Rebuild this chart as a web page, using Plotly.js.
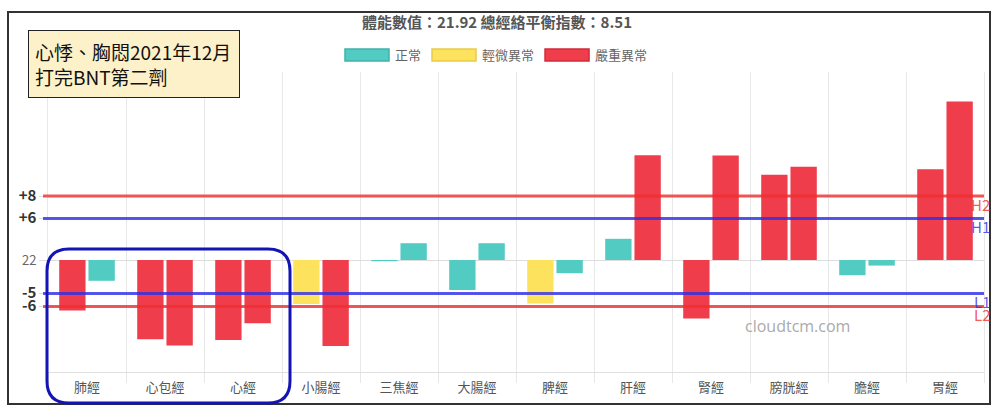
<!DOCTYPE html>
<html>
<head>
<meta charset="utf-8">
<script src="https://cdn.plot.ly/plotly-3.0.1.min.js"></script>
<style>
  html, body { margin: 0; padding: 0; background: #fff; }
  #chart { width: 1000px; height: 419px; }
</style>
</head>
<body>
<div id="chart"></div>
<script>
// meridians, left and right side readings (deviation from the body value 22, in chart units)
const categories = ["肺經", "心包經", "心經", "小腸經", "三焦經", "大腸經", "脾經", "肝經", "腎經", "膀胱經", "膽經", "胃經"];
const leftValues = [-6.3, -9.9, -10.0, -5.5, -0.15, -3.75, -5.45, 2.65, -7.3, 10.65, -1.9, 11.35];
const rightValues = [-2.6, -10.7, -7.9, -10.75, 2.1, 2.1, -1.65, 13.1, 13.05, 11.65, -0.7, 19.8];
const leftStatus = ["嚴重異常", "嚴重異常", "嚴重異常", "輕微異常", "正常", "正常", "輕微異常", "正常", "嚴重異常", "嚴重異常", "正常", "嚴重異常"];
const rightStatus = ["正常", "嚴重異常", "嚴重異常", "嚴重異常", "正常", "正常", "正常", "嚴重異常", "嚴重異常", "嚴重異常", "正常", "嚴重異常"];

const statusNames = ["正常", "輕微異常", "嚴重異常"];
const statusColors = { "正常": "#52CCC3", "輕微異常": "#FDE25E", "嚴重異常": "#EF3D4C" };
const statusBorders = { "正常": "#3FB3AA", "輕微異常": "#E8CB45", "嚴重異常": "#D42A39" };

// reference lines
const refTags = ["H2", "H1", "L1", "L2"];
const refLevels = [8, 5.2, -4.2, -5.8];
const refTickText = ["+8", "+6", "-5", "-6"];
const refColors = ["rgba(240,45,45,0.8)", "rgba(45,45,230,0.8)", "rgba(45,45,230,0.8)", "rgba(240,45,45,0.8)"];
const baseLabel = "22";

const titleText = "體能數值：21.92 總經絡平衡指數：8.51";
const noteText = "心悸、胸悶2021年12月<br>打完BNT第二劑";
const watermark = "cloudtcm.com";

const FONT = "'Noto Sans CJK TC', 'Noto Sans', sans-serif";

// plot area in pixels: x 48..984, y 72..372
const M = { l: 48, r: 16, t: 72, b: 47 };
const PW = 1000 - M.l - M.r;
const PH = 419 - M.t - M.b;
function px2x(px) { return (px - M.l) / PW; }
function py2y(py) { return (419 - M.b - py) / PH; }

function barTrace(values, status, name) {
  return {
    type: "bar",
    name: name,
    x: categories,
    y: values,
    marker: { color: status.map((s) => statusColors[s]) },
    showlegend: false,
    hoverinfo: "x+y",
  };
}

const legendTraces = statusNames.map((s) => ({
  type: "scatter",
  mode: "markers",
  name: s,
  x: [null],
  y: [null],
  marker: { symbol: "square", size: 12, color: statusColors[s], line: { color: statusBorders[s], width: 1.5 } },
}));

const data = [barTrace(leftValues, leftStatus, "左"), barTrace(rightValues, rightStatus, "右")].concat(legendTraces);

const tickvals = [refLevels[0], refLevels[1], 0, refLevels[2], refLevels[3]];
const ticktext = [refTickText[0], refTickText[1], baseLabel, refTickText[2], refTickText[3]]
  .map((t, i) => (i === 2 ? t : '<span style="font-size:15px;color:#333"><b>' + t + "</b></span>"));

const shapes = [];
refLevels.forEach((lv, i) => {
  shapes.push({
    type: "line", xref: "paper", yref: "y",
    x0: px2x(43), x1: 1, y0: lv, y1: lv,
    line: { color: refColors[i], width: 3 },
    layer: "above",
  });
});
// outer frame
shapes.push({
  type: "rect", xref: "paper", yref: "paper",
  x0: px2x(8), x1: px2x(990), y0: py2y(404), y1: py2y(12),
  line: { color: "#333", width: 2 },
});
// rounded highlight box
(function () {
  const x0 = px2x(47), x1 = px2x(290), yt = py2y(249), yb = py2y(403);
  const rx = 22 / PW, ry = 22 / PH;
  const path =
    `M${x0 + rx},${yt} L${x1 - rx},${yt} Q${x1},${yt} ${x1},${yt - ry} ` +
    `L${x1},${yb + ry} Q${x1},${yb} ${x1 - rx},${yb} ` +
    `L${x0 + rx},${yb} Q${x0},${yb} ${x0},${yb + ry} ` +
    `L${x0},${yt - ry} Q${x0},${yt} ${x0 + rx},${yt} Z`;
  shapes.push({ type: "path", xref: "paper", yref: "paper", path: path, line: { color: "#1414B4", width: 3 }, layer: "above" });
})();

const annotations = refTags.map((tag, i) => ({
  xref: "paper", yref: "y", x: px2x(992), y: refLevels[i],
  xanchor: "right", yanchor: "middle", yshift: -8,
  text: tag, showarrow: false,
  font: { family: FONT, size: 15, color: refColors[i] },
}));
annotations.push({
  xref: "paper", yref: "paper", x: px2x(28), y: py2y(30),
  xanchor: "left", yanchor: "top", align: "left",
  text: noteText, showarrow: false,
  width: 198, height: 54, borderpad: 6,
  bgcolor: "#FDF1C9", bordercolor: "#222", borderwidth: 1,
  font: { family: FONT, size: 19, color: "#111" },
});
annotations.push({
  xref: "paper", yref: "paper", x: px2x(797), y: py2y(326),
  xanchor: "center", yanchor: "middle",
  text: watermark, showarrow: false,
  font: { family: "'Open Sans', sans-serif", size: 16, color: "#aaa" },
});

const layout = {
  width: 1000,
  height: 419,
  margin: M,
  paper_bgcolor: "#fff",
  plot_bgcolor: "#fff",
  font: { family: FONT, color: "#666", size: 13 },
  title: {
    text: "<b>" + titleText + "</b>",
    x: 0.497, xanchor: "center", y: 1 - 23 / 419, yanchor: "middle",
    font: { family: FONT, size: 15, color: "#555" },
  },
  barmode: "group",
  bargap: 0.25,
  bargroupgap: 0.1,
  showlegend: true,
  legend: {
    orientation: "h",
    x: px2x(496), xanchor: "center",
    y: py2y(55), yanchor: "middle",
    itemwidth: 46,
    font: { family: FONT, size: 13, color: "#666" },
  },
  xaxis: {
    type: "category",
    tickson: "boundaries",
    showgrid: true,
    gridcolor: "#e8e8e8",
    ticks: "outside",
    ticklen: 10,
    tickcolor: "#e8e8e8",
    ticklabelstandoff: 3,
    showline: true,
    linecolor: "#e0e0e0",
    tickfont: { family: FONT, size: 13, color: "#555" },
    fixedrange: true,
  },
  yaxis: {
    range: [-112 / 8, 188 / 8],
    tickvals: tickvals,
    ticktext: ticktext,
    showgrid: true,
    gridcolor: "#ddd",
    zeroline: false,
    ticks: "outside",
    ticklen: 8,
    tickcolor: "#ddd",
    showline: true,
    mirror: true,
    linecolor: "#e8e8e8",
    tickfont: { family: FONT, size: 13, color: "#666" },
    fixedrange: true,
  },
  shapes: shapes,
  annotations: annotations,
};

Plotly.newPlot("chart", data, layout, { displayModeBar: false, staticPlot: true }).then(function () {
  // chart.js style wide legend swatches
  document.querySelectorAll("#chart .legend .legendpoints path").forEach(function (p) {
    p.setAttribute("d", "M22,6H-22V-6H22Z");
  });
});
</script>
</body>
</html>
